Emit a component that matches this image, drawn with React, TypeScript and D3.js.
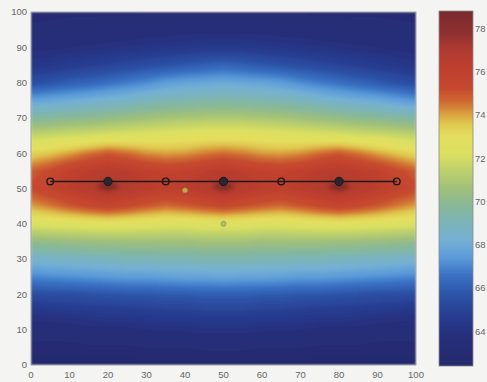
import { useMemo } from 'react';
import * as d3 from 'd3';

// grid of the field (rows from y=100 down to y=0)
const gridX = [0, 5, 10, 15, 20, 25, 30, 35, 40, 45, 50, 55, 60, 65, 70, 75, 80, 85, 90, 95, 100];
const gridY = [100, 95, 90, 85, 80, 75, 70, 65, 60, 55, 50, 45, 40, 35, 30, 25, 20, 15, 10, 5, 0];
const heat = [
  [62.9, 63.0, 63.0, 63.0, 63.0, 63.0, 63.0, 63.0, 63.0, 63.0, 63.0, 63.0, 63.0, 63.0, 63.0, 63.0, 63.0, 63.0, 63.0, 63.0, 62.9],
  [63.2, 63.2, 63.3, 63.3, 63.4, 63.4, 63.5, 63.5, 63.6, 63.6, 63.6, 63.6, 63.6, 63.5, 63.5, 63.4, 63.4, 63.3, 63.3, 63.2, 63.2],
  [63.7, 63.7, 63.8, 63.9, 64.0, 64.1, 64.2, 64.3, 64.4, 64.5, 64.5, 64.5, 64.4, 64.3, 64.2, 64.1, 64.0, 63.9, 63.8, 63.7, 63.6],
  [64.3, 64.4, 64.6, 64.8, 65.0, 65.2, 65.4, 65.6, 65.8, 66.0, 66.2, 66.0, 65.8, 65.6, 65.4, 65.2, 65.0, 64.8, 64.6, 64.4, 64.2],
  [65.4, 65.7, 66.0, 66.2, 66.5, 66.8, 67.1, 67.5, 67.7, 67.8, 67.9, 67.8, 67.7, 67.5, 67.1, 66.8, 66.5, 66.2, 65.9, 65.6, 65.3],
  [67.6, 67.8, 68.0, 68.2, 68.4, 68.6, 68.9, 69.1, 69.2, 69.3, 69.4, 69.3, 69.2, 69.1, 68.9, 68.6, 68.3, 68.1, 67.9, 67.6, 67.3],
  [69.6, 69.7, 69.9, 70.0, 70.2, 70.4, 70.6, 70.8, 70.9, 71.0, 71.0, 71.0, 70.9, 70.8, 70.6, 70.4, 70.2, 70.0, 69.8, 69.6, 69.4],
  [71.6, 71.7, 71.9, 72.0, 72.2, 72.3, 72.4, 72.5, 72.6, 72.7, 72.7, 72.7, 72.6, 72.5, 72.4, 72.3, 72.2, 72.0, 71.9, 71.7, 71.5],
  [73.3, 73.6, 74.0, 74.5, 74.9, 74.6, 74.2, 74.0, 74.1, 74.4, 74.6, 74.4, 74.1, 74.0, 74.2, 74.6, 74.9, 74.5, 74.0, 73.6, 73.2],
  [74.8, 75.3, 75.9, 76.3, 76.6, 76.4, 76.0, 75.8, 75.9, 76.2, 76.5, 76.2, 75.9, 75.8, 76.0, 76.4, 76.6, 76.3, 75.9, 75.3, 74.8],
  [75.3, 75.8, 76.3, 76.7, 77.0, 76.8, 76.4, 76.2, 76.3, 76.7, 77.0, 76.7, 76.3, 76.2, 76.4, 76.8, 77.0, 76.7, 76.3, 75.8, 75.3],
  [74.0, 74.4, 74.9, 75.3, 75.6, 75.3, 74.9, 74.6, 74.8, 75.1, 75.4, 75.1, 74.8, 74.6, 74.9, 75.3, 75.6, 75.3, 74.9, 74.4, 74.0],
  [72.3, 72.4, 72.5, 72.6, 72.7, 72.6, 72.5, 72.4, 72.4, 72.5, 72.5, 72.5, 72.4, 72.4, 72.5, 72.6, 72.7, 72.6, 72.5, 72.4, 72.3],
  [70.2, 70.3, 70.4, 70.5, 70.5, 70.6, 70.6, 70.6, 70.6, 70.7, 70.7, 70.7, 70.6, 70.6, 70.6, 70.6, 70.5, 70.5, 70.4, 70.3, 70.2],
  [68.5, 68.6, 68.7, 68.8, 68.9, 69.0, 69.0, 69.1, 69.1, 69.2, 69.2, 69.2, 69.1, 69.1, 69.0, 69.0, 68.9, 68.8, 68.7, 68.6, 68.5],
  [67.0, 67.1, 67.2, 67.3, 67.4, 67.5, 67.5, 67.6, 67.7, 67.7, 67.8, 67.7, 67.7, 67.6, 67.5, 67.5, 67.4, 67.3, 67.2, 67.1, 67.0],
  [65.4, 65.5, 65.5, 65.6, 65.7, 65.8, 65.8, 65.9, 65.9, 66.0, 66.0, 66.0, 65.9, 65.9, 65.8, 65.8, 65.7, 65.6, 65.5, 65.5, 65.4],
  [64.2, 64.3, 64.4, 64.5, 64.6, 64.6, 64.7, 64.8, 64.8, 64.9, 64.9, 64.9, 64.8, 64.8, 64.7, 64.6, 64.6, 64.5, 64.4, 64.3, 64.2],
  [63.4, 63.4, 63.5, 63.6, 63.7, 63.7, 63.8, 63.9, 63.9, 64.0, 64.0, 64.0, 63.9, 63.9, 63.8, 63.7, 63.7, 63.6, 63.5, 63.4, 63.4],
  [62.9, 62.9, 62.9, 63.0, 63.0, 63.0, 63.1, 63.1, 63.1, 63.2, 63.2, 63.2, 63.1, 63.1, 63.1, 63.0, 63.0, 63.0, 62.9, 62.9, 62.9],
  [62.5, 62.5, 62.5, 62.5, 62.5, 62.5, 62.6, 62.6, 62.6, 62.6, 62.6, 62.6, 62.6, 62.6, 62.6, 62.5, 62.5, 62.5, 62.5, 62.5, 62.5],
];

// the black line and its markers
const lineX = [5, 20, 35, 50, 65, 80, 95];
const lineY = [52, 52, 52, 52, 52, 52, 52];
const lineFilled = [false, true, false, true, false, true, false];

// two loose dots
const dotX = [40, 50];
const dotY = [49.5, 40];
const dotColor = ['#cdb443', '#9dbb6e'];

const xTicks = [0, 10, 20, 30, 40, 50, 60, 70, 80, 90, 100];
const yTicks = [0, 10, 20, 30, 40, 50, 60, 70, 80, 90, 100];
const cbTicks = [64, 66, 68, 70, 72, 74, 76, 78];
const cbDomain = [62.4, 78.8];

// colormap as photographed from the colorbar
const cmapValues = [62.4, 63.8, 64.8, 65.7, 66.6, 67.4, 68.2, 69.0, 69.8, 70.6, 71.4, 72.2, 73.0, 73.6, 74.1, 74.6, 75.2, 76.0, 77.0, 77.8, 78.8];
const cmapColors = ['#242a6c', '#262f7c', '#283e92', '#2c54a8', '#3a72c4', '#5a9ad8', '#74b0d4', '#7cb4b8', '#88b898', '#a0c07a', '#bcd06c', '#dce060', '#e4de5e', '#e0c850', '#d89a3c', '#d06a32', '#c64a2e', '#c0402e', '#b03a30', '#8e3030', '#7a2a2e'];

const W = 487;
const H = 382;
const plot = { left: 31, top: 12, right: 416, bottom: 365 };
const cb = { left: 439, top: 11, right: 473, bottom: 366 };

function locate(arr: number[], v: number) {
  for (let i = 0; i < arr.length - 1; i++) {
    const a = arr[i], b = arr[i + 1];
    if ((v >= Math.min(a, b)) && (v <= Math.max(a, b))) return [i, (v - a) / (b - a)];
  }
  return v <= arr[0] === arr[0] < arr[arr.length - 1] ? [0, 0] : [arr.length - 2, 1];
}

function sample(x: number, y: number) {
  const [ci, cf] = locate(gridX, x);
  const [ri, rf] = locate(gridY, y);
  const a = heat[ri][ci], b = heat[ri][ci + 1];
  const c = heat[ri + 1][ci], d = heat[ri + 1][ci + 1];
  return (a * (1 - cf) + b * cf) * (1 - rf) + (c * (1 - cf) + d * cf) * rf;
}

export default function App() {
  const xScale = d3.scaleLinear().domain([0, 100]).range([plot.left, plot.right]);
  const yScale = d3.scaleLinear().domain([0, 100]).range([plot.bottom, plot.top]);
  const cbScale = d3.scaleLinear().domain(cbDomain).range([cb.bottom, cb.top]);

  const images = useMemo(() => {
    const color = d3.scaleLinear<string>().domain(cmapValues).range(cmapColors).interpolate(d3.interpolateRgb).clamp(true);
    const lut = d3.range(512).map((i) => d3.rgb(color(cbDomain[0] + (cbDomain[1] - cbDomain[0]) * i / 511)));
    const toRgb = (v: number) => {
      const t = Math.max(0, Math.min(511, Math.round((v - cbDomain[0]) / (cbDomain[1] - cbDomain[0]) * 511)));
      return lut[t];
    };

    const w = plot.right - plot.left;
    const h = plot.bottom - plot.top;
    const canvas = document.createElement('canvas');
    canvas.width = w;
    canvas.height = h;
    const ctx = canvas.getContext('2d')!;
    const img = ctx.createImageData(w, h);
    for (let j = 0; j < h; j++) {
      const y = yScale.invert(plot.top + j + 0.5);
      for (let i = 0; i < w; i++) {
        const x = xScale.invert(plot.left + i + 0.5);
        const c = toRgb(sample(x, y));
        const k = (j * w + i) * 4;
        img.data[k] = c.r;
        img.data[k + 1] = c.g;
        img.data[k + 2] = c.b;
        img.data[k + 3] = 255;
      }
    }
    ctx.putImageData(img, 0, 0);

    const cw = cb.right - cb.left;
    const ch = cb.bottom - cb.top;
    const c2 = document.createElement('canvas');
    c2.width = cw;
    c2.height = ch;
    const ctx2 = c2.getContext('2d')!;
    for (let j = 0; j < ch; j++) {
      const c = toRgb(cbScale.invert(cb.top + j + 0.5));
      ctx2.fillStyle = `rgb(${c.r},${c.g},${c.b})`;
      ctx2.fillRect(0, j, cw, 1);
    }
    return { heat: canvas.toDataURL(), bar: c2.toDataURL() };
  }, []);

  const line = d3.line<number>().x((d) => xScale(d)).y((_, i) => yScale(lineY[i]));
  const font = "'Liberation Sans', Arial, sans-serif";

  return (
    <svg width={W} height={H} style={{ position: 'absolute', left: 0, top: 0 }}>
      <defs>
        <filter id="soft" x="0" y="0" width="1" height="1">
          <feGaussianBlur stdDeviation="1.2" edgeMode="duplicate" />
        </filter>
        <filter id="shadow" x="-1" y="-1" width="3" height="3">
          <feGaussianBlur stdDeviation="2" />
        </filter>
        <clipPath id="plotclip">
          <rect x={plot.left} y={plot.top} width={plot.right - plot.left} height={plot.bottom - plot.top} />
        </clipPath>
      </defs>
      <rect width={W} height={H} fill="#f4f4f2" />

      <image href={images.heat} x={plot.left} y={plot.top} width={plot.right - plot.left} height={plot.bottom - plot.top}
        preserveAspectRatio="none" filter="url(#soft)" />

      <g clipPath="url(#plotclip)">
        {lineX.map((x, i) => lineFilled[i] ? (
          <ellipse key={'s' + i} cx={xScale(x)} cy={yScale(lineY[i]) + 5} rx={10} ry={4} fill="#4a1a18" opacity={0.45} filter="url(#shadow)" />
        ) : null)}
        <path d={line(lineX) ?? ''} fill="none" stroke="#1c1a1c" strokeWidth={1.6} />
        {lineX.map((x, i) => lineFilled[i] ? (
          <circle key={'m' + i} cx={xScale(x)} cy={yScale(lineY[i])} r={4.2} fill="#2a2630" stroke="#1a1a1e" strokeWidth={1} />
        ) : (
          <circle key={'m' + i} cx={xScale(x)} cy={yScale(lineY[i])} r={3.3} fill="none" stroke="#1c1a1c" strokeWidth={1.4} />
        ))}
        {dotX.map((x, i) => (
          <circle key={'d' + i} cx={xScale(x)} cy={yScale(dotY[i])} r={2.6} fill={dotColor[i]} stroke="#8a8a50" strokeWidth={0.6} opacity={0.9} />
        ))}
      </g>

      <rect x={plot.left} y={plot.top} width={plot.right - plot.left} height={plot.bottom - plot.top} fill="none" stroke="#8a8a90" strokeWidth={0.8} />

      {xTicks.map((t) => (
        <text key={'x' + t} x={xScale(t)} y={378} textAnchor="middle" fontSize={9.5} fontFamily={font} fill="#666">{t}</text>
      ))}
      {yTicks.map((t) => (
        <text key={'y' + t} x={plot.left - 4} y={yScale(t)} dy="0.35em" textAnchor="end" fontSize={9.5} fontFamily={font} fill="#666">{t}</text>
      ))}

      <image href={images.bar} x={cb.left} y={cb.top} width={cb.right - cb.left} height={cb.bottom - cb.top} preserveAspectRatio="none" />
      <rect x={cb.left} y={cb.top} width={cb.right - cb.left} height={cb.bottom - cb.top} fill="none" stroke="#8a8a90" strokeWidth={0.8} />
      {cbTicks.map((t) => (
        <text key={'c' + t} x={cb.right + 2} y={cbScale(t)} dy="0.35em" fontSize={9.5} fontFamily={font} fill="#666">{t}</text>
      ))}
    </svg>
  );
}
